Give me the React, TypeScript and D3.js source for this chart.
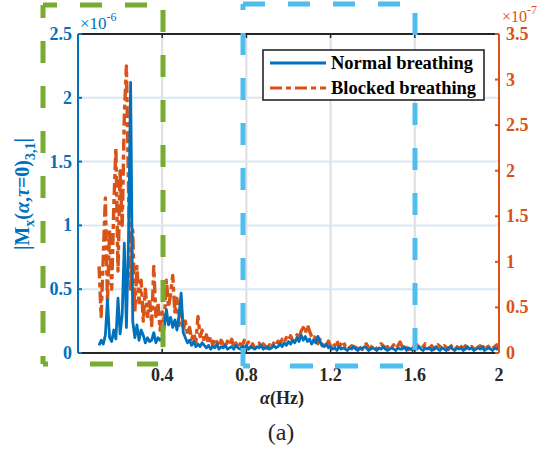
import React from "react";
import * as d3 from "d3";

// ---- data ----
const alphaStart = 0.1;
const alphaStep = 0.01;

// Normal breathing, |M_x| in units of 1e-6 (left axis)
const normalBreathing = [
  0.06, 0.10, 0.07, 0.14, 0.42, 0.12, 0.09, 0.18, 0.11, 0.43,
  0.15, 0.30, 0.86, 0.20, 0.90, 2.12, 0.25, 0.12, 0.22, 0.10,
  0.18, 0.14, 0.08, 0.12, 0.09, 0.10, 0.16, 0.08, 0.12, 0.10,
  0.12, 0.20, 0.34, 0.22, 0.28, 0.20, 0.26, 0.18, 0.30, 0.47,
  0.16, 0.12, 0.08, 0.10, 0.06, 0.09, 0.05, 0.07, 0.05, 0.08,
  0.06, 0.04, 0.06, 0.03, 0.05, 0.04, 0.07, 0.03, 0.05, 0.04,
  0.06, 0.03, 0.04, 0.05, 0.03, 0.06, 0.04, 0.03, 0.05, 0.04,
  0.06, 0.03, 0.05, 0.04, 0.03, 0.05, 0.04, 0.06, 0.03, 0.04,
  0.05, 0.03, 0.04, 0.06, 0.04, 0.05, 0.07, 0.05, 0.08, 0.06,
  0.09, 0.07, 0.10, 0.08, 0.12, 0.09, 0.14, 0.10, 0.13, 0.09,
  0.11, 0.07, 0.10, 0.08, 0.13, 0.09, 0.06, 0.05, 0.07, 0.04,
  0.05,
  0.03, 0.04, 0.02, 0.05, 0.03, 0.04, 0.03, 0.02, 0.04, 0.03,
  0.05, 0.03, 0.02, 0.04, 0.03, 0.05, 0.04, 0.02, 0.03, 0.04,
  0.03, 0.02, 0.04, 0.03, 0.05, 0.03, 0.02, 0.03, 0.04, 0.03,
  0.02, 0.04, 0.03, 0.03, 0.05, 0.02, 0.04, 0.03, 0.02, 0.04,
  0.03, 0.05, 0.03, 0.02, 0.04, 0.03, 0.04, 0.02, 0.03, 0.05,
  0.03, 0.02, 0.04, 0.03, 0.02, 0.04, 0.05, 0.03, 0.02, 0.04,
  0.03, 0.04, 0.02, 0.03, 0.05, 0.03, 0.04, 0.02, 0.03, 0.04,
  0.03, 0.05, 0.02, 0.03, 0.04, 0.03, 0.02, 0.04, 0.03, 0.04,
];

// Blocked breathing, in units of 1e-7 (right axis)
const blockedBreathing = [
  0.95, 0.40, 1.05, 1.70, 0.55, 1.35, 0.70, 1.60, 2.25, 0.90,
  2.00, 1.40, 2.60, 3.15, 1.80, 0.70, 1.35, 0.45, 0.95, 0.55,
  0.80, 0.35, 0.70, 0.40, 0.60, 0.30, 0.95, 0.40, 0.55, 0.25,
  0.45, 0.35, 0.80, 0.50, 0.65, 0.85, 0.45, 0.60, 0.30, 0.50,
  0.25, 0.35, 0.20, 0.28, 0.15, 0.22, 0.12, 0.40, 0.18, 0.25,
  0.12, 0.20, 0.10, 0.18, 0.08, 0.16, 0.12, 0.07, 0.14, 0.10,
  0.06, 0.13, 0.09, 0.15, 0.07, 0.11, 0.05, 0.10, 0.08, 0.14,
  0.09, 0.12, 0.06, 0.10, 0.05, 0.09, 0.11, 0.06, 0.10, 0.07,
  0.05, 0.09, 0.06, 0.11, 0.08, 0.13, 0.10, 0.15, 0.12, 0.17,
  0.14, 0.19, 0.13, 0.16, 0.20, 0.15, 0.24, 0.28, 0.22, 0.31,
  0.24, 0.18, 0.14, 0.20, 0.10, 0.15, 0.08, 0.12, 0.09, 0.13,
  0.07, 0.11, 0.08, 0.14, 0.06, 0.10, 0.13, 0.07, 0.09, 0.06,
  0.08,
  0.07, 0.05, 0.09, 0.06, 0.04, 0.08, 0.10, 0.06, 0.05, 0.09,
  0.07, 0.04, 0.06, 0.10, 0.08, 0.05, 0.07, 0.04, 0.06, 0.09,
  0.05, 0.08, 0.12, 0.07, 0.05, 0.06, 0.04, 0.08, 0.06, 0.05,
  0.09, 0.06, 0.04, 0.07, 0.10, 0.06, 0.05, 0.08, 0.04, 0.06,
  0.09, 0.07, 0.05, 0.08, 0.06, 0.04, 0.07, 0.09, 0.05, 0.06,
  0.10, 0.07, 0.05, 0.08, 0.06, 0.04, 0.07, 0.05, 0.09, 0.06,
  0.08, 0.05, 0.07, 0.10, 0.06, 0.08, 0.05, 0.07, 0.09, 0.06,
];

const xTicks = [0.4, 0.8, 1.2, 1.6, 2];
const xTickLabels = ["0.4", "0.8", "1.2", "1.6", "2"];
const yLeftTicks = [0, 0.5, 1, 1.5, 2, 2.5];
const yLeftTickLabels = ["0", "0.5", "1", "1.5", "2", "2.5"];
const yRightTicks = [0, 0.5, 1, 1.5, 2, 2.5, 3, 3.5];
const yRightTickLabels = ["0", "0.5", "1", "1.5", "2", "2.5", "3", "3.5"];
const seriesNames = ["Normal breathing", "Blocked breathing"];

// ---- style ----
const W = 547;
const H = 456;
const L = 78, R = 499, T = 34, B = 353;
const BLUE = "#0072BD";
const ORANGE = "#D95319";
const GREEN = "#77AC30";
const SKY = "#4DBEEE";
const FONT = "Liberation Serif, Times New Roman, DejaVu Serif, serif";
const serif: React.CSSProperties = { fontFamily: FONT };

export default function App() {
  const x = d3.scaleLinear().domain([0, 2]).range([L, R]);
  const yL = d3.scaleLinear().domain([0, 2.5]).range([B, T]);
  const yR = d3.scaleLinear().domain([0, 3.5]).range([B, T]);

  const alphaOf = (i: number) => alphaStart + i * alphaStep;
  const lineL = d3
    .line<number>()
    .x((_, i) => x(alphaOf(i)))
    .y((d) => yL(d));
  const lineR = d3
    .line<number>()
    .x((_, i) => x(alphaOf(i)))
    .y((d) => yR(d));

  const dash = "22 23";

  return (
    <svg
      width={W}
      height={H}
      style={{ position: "absolute", left: 0, top: 0, background: "#fff", fontFamily: FONT }}
    >
      <defs>
        <clipPath id="plotclip">
          <rect x={L} y={T} width={R - L} height={B - T} />
        </clipPath>
      </defs>
      <rect x={0} y={0} width={W} height={H} fill="#fff" />

      {/* grid */}
      {xTicks.slice(0, -1).map((t) => (
        <line key={"gx" + t} x1={x(t)} x2={x(t)} y1={T} y2={B} stroke="#dedede" strokeWidth={2} />
      ))}
      {yLeftTicks.slice(1, -1).map((t) => (
        <line key={"gy" + t} x1={L} x2={R} y1={yL(t)} y2={yL(t)} stroke="#d9e8f4" strokeWidth={2} />
      ))}

      {/* data */}
      <g clipPath="url(#plotclip)">
        <path
          d={lineR(blockedBreathing) || ""}
          fill="none"
          stroke={ORANGE}
          strokeWidth={3.4}
          strokeDasharray="12 4 5 4"
          strokeLinejoin="round"
        />
        <path
          d={lineL(normalBreathing) || ""}
          fill="none"
          stroke={BLUE}
          strokeWidth={2.8}
          strokeLinejoin="round"
        />
      </g>

      {/* axes box */}
      <line x1={L} x2={R} y1={T} y2={T} stroke="#262626" strokeWidth={1.8} />
      <line x1={L} x2={R} y1={B} y2={B} stroke="#262626" strokeWidth={1.8} />
      {xTicks.map((t) => (
        <g key={"xt" + t}>
          <line x1={x(t)} x2={x(t)} y1={B} y2={B - 4} stroke="#262626" strokeWidth={1.5} />
          <line x1={x(t)} x2={x(t)} y1={T} y2={T + 4} stroke="#262626" strokeWidth={1.5} />
        </g>
      ))}
      <line x1={L} x2={L} y1={T} y2={B} stroke={BLUE} strokeWidth={2} />
      <line x1={R} x2={R} y1={T} y2={B} stroke={ORANGE} strokeWidth={2} />
      {yLeftTicks.map((t) => (
        <line key={"ylt" + t} x1={L} x2={L + 4} y1={yL(t)} y2={yL(t)} stroke={BLUE} strokeWidth={2} />
      ))}
      {yRightTicks.map((t) => (
        <line key={"yrt" + t} x1={R} x2={R - 4} y1={yR(t)} y2={yR(t)} stroke={ORANGE} strokeWidth={2} />
      ))}

      {/* tick labels */}
      {xTicks.map((t, i) => (
        <text key={"xl" + t} x={x(t)} y={381} textAnchor="middle" fontSize={18} fontWeight="bold" fill="#262626" style={serif}>
          {xTickLabels[i]}
        </text>
      ))}
      {yLeftTicks.map((t, i) => (
        <text key={"yll" + t} x={72} y={yL(t) + 6} textAnchor="end" fontSize={18} fontWeight="bold" fill={BLUE} style={serif}>
          {yLeftTickLabels[i]}
        </text>
      ))}
      {yRightTicks.map((t, i) => (
        <text key={"yrl" + t} x={506} y={yR(t) + 6} textAnchor="start" fontSize={18} fontWeight="bold" fill={ORANGE} style={serif}>
          {yRightTickLabels[i]}
        </text>
      ))}

      {/* exponents */}
      <text x={80} y={29} fontSize={17} fill={BLUE} style={serif}>
        ×10<tspan dy={-8} fontSize={12}>-6</tspan>
      </text>
      <text x={502} y={22} fontSize={16} fill={ORANGE} style={serif}>
        ×10<tspan dy={-8} fontSize={12}>-7</tspan>
      </text>

      {/* axis labels */}
      <text x={282} y={404} textAnchor="middle" fontSize={18} fontWeight="bold" fill="#262626" style={serif}>
        <tspan fontStyle="italic">α</tspan>(Hz)
      </text>
      <text x={281} y={440} textAnchor="middle" fontSize={24} fill="#262626" style={serif}>
        (a)
      </text>
      <text
        transform="translate(29,194) rotate(-90)"
        textAnchor="middle"
        fontSize={20}
        fontWeight="bold"
        fill={BLUE}
        style={serif}
      >
        |M<tspan dy={5} fontSize={14}>x</tspan>
        <tspan dy={-5}>(</tspan>
        <tspan fontStyle="italic">α</tspan>,<tspan fontStyle="italic">τ</tspan>=0)
        <tspan dy={6} fontSize={14}>3,1</tspan>
        <tspan dy={-6}>|</tspan>
      </text>

      {/* green dashed box */}
      <g stroke={GREEN} strokeWidth={5} fill="none">
        <line x1={43} x2={163} y1={5} y2={5} strokeDasharray={dash} strokeDashoffset={8} />
        <line x1={163} x2={163} y1={5} y2={364} strokeDasharray={dash} strokeDashoffset={40} />
        <line x1={43} x2={163} y1={364} y2={364} strokeDasharray="5 42 23 24 21 100" />
        <line x1={43} x2={43} y1={5} y2={364} strokeDasharray={dash} strokeDashoffset={9} />
      </g>

      {/* sky-blue dashed box */}
      <g stroke={SKY} strokeWidth={5} fill="none">
        <line x1={243} x2={415} y1={4} y2={4} strokeDasharray={dash} strokeDashoffset={0} />
        <line x1={415} x2={415} y1={4} y2={366} strokeDasharray={dash} strokeDashoffset={36} />
        <line x1={243} x2={415} y1={366} y2={366} strokeDasharray="7 40 23 22 23 22 23 100" />
        <line x1={243} x2={243} y1={366} y2={4} strokeDasharray={dash} strokeDashoffset={4} />
      </g>

      {/* legend */}
      <g>
        <rect x={263} y={50} width={221} height={50} fill="#fff" stroke="#262626" strokeWidth={1.6} />
        <line x1={270} x2={326} y1={63} y2={63} stroke={BLUE} strokeWidth={3} />
        <line x1={270} x2={326} y1={88} y2={88} stroke={ORANGE} strokeWidth={3.2} strokeDasharray="12 4 5 4" />
        <text x={331} y={69} fontSize={18.5} fontWeight="bold" fill="#000" style={serif}>
          {seriesNames[0]}
        </text>
        <text x={331} y={94} fontSize={18.5} fontWeight="bold" fill="#000" style={serif}>
          {seriesNames[1]}
        </text>
      </g>
    </svg>
  );
}
